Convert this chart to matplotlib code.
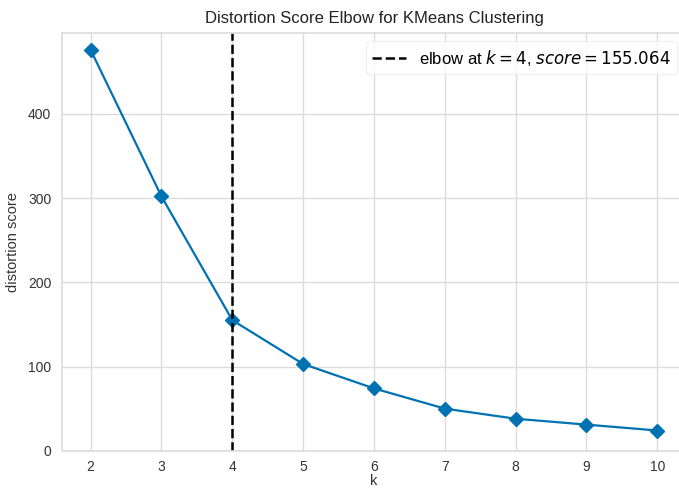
import matplotlib
matplotlib.use("Agg")
import matplotlib.pyplot as plt
from matplotlib import font_manager

k_values = [2, 3, 4, 5, 6, 7, 8, 9, 10]
distortion = [476, 302, 155.064, 103, 74, 50, 38, 31, 24]
elbow_k = 4
elbow_score = 155.064
x_ticks = [2, 3, 4, 5, 6, 7, 8, 9, 10]
y_ticks = [0, 100, 200, 300, 400]

names = {f.name for f in font_manager.fontManager.ttflist}
narrow = 'Liberation Sans Narrow' if 'Liberation Sans Narrow' in names else 'Liberation Sans'
plt.rcParams['font.family'] = [narrow, 'DejaVu Sans']
plt.rcParams['mathtext.fontset'] = 'dejavusans'

fig = plt.figure(figsize=(6.79, 4.92), dpi=100)
ax = fig.add_axes([0.0918, 0.0839, 0.918, 0.8496])
ax.set_facecolor('white')
ax.grid(True, color='#dcdcdc', linewidth=1.0)
ax.set_axisbelow(True)
for s in ax.spines.values():
    s.set_color('#dcdcdc')
    s.set_linewidth(1.2)

ax.plot(k_values, distortion, marker='D', color='#0072B2', linewidth=1.6, markersize=7.5)
ax.axvline(elbow_k, color='black', linestyle='--', linewidth=1.8,
           label=f'elbow at $k={elbow_k}$, $score={elbow_score:.3f}$')

ax.set_xticks(x_ticks)
ax.set_yticks(y_ticks)
ax.set_xlim(1.6, 10.4)
ax.set_ylim(0, 496.5)
ax.tick_params(axis='x', length=0, labelsize=10, colors='#333333', pad=7)
ax.tick_params(axis='y', length=0, labelsize=10, colors='#333333', pad=8)
ax.set_xlabel('k', fontsize=10.5, color='#333333', labelpad=0)
ax.set_ylabel('distortion score', fontsize=10.5, color='#333333', labelpad=6)
ax.set_title('Distortion Score Elbow for KMeans Clustering', fontsize=12, color='#222222', pad=7)
leg = ax.legend(loc='upper right', fontsize=12, frameon=True, framealpha=0.8,
                edgecolor='#eeeeee', handlelength=2.0)

fig.savefig('out.png', dpi=100)
